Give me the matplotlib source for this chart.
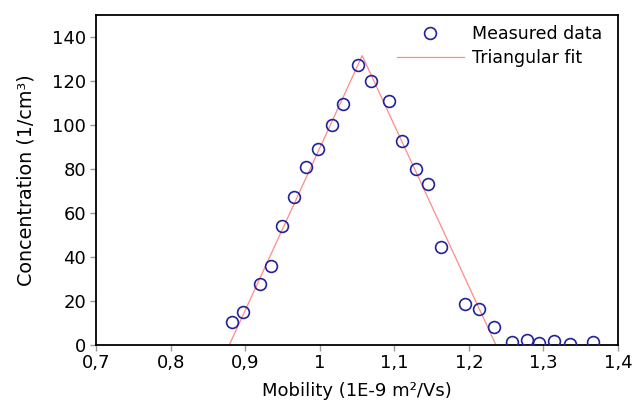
import numpy as np
import matplotlib
matplotlib.use('Agg')
import matplotlib.pyplot as plt
from matplotlib.ticker import FuncFormatter

mobility = [0.882, 0.897, 0.920, 0.935, 0.950, 0.966, 0.982, 0.998, 1.016, 1.031,
            1.052, 1.069, 1.093, 1.111, 1.129, 1.145, 1.163, 1.195, 1.214, 1.234,
            1.258, 1.278, 1.294, 1.314, 1.336, 1.366]
concentration = [10.4, 14.9, 27.5, 35.7, 54.0, 67.2, 81.0, 89.2, 99.7, 109.7,
                 127.1, 119.9, 110.9, 92.8, 79.9, 72.9, 44.5, 18.3, 16.2, 7.8,
                 1.1, 2.0, 0.8, 1.4, 0.2, 1.1]

# Triangular fit corners
fit_x = [0.879, 1.057, 1.236]
fit_y = [0.0, 131.5, 0.0]

xticks = [0.7, 0.8, 0.9, 1.0, 1.1, 1.2, 1.3, 1.4]
yticks = [0, 20, 40, 60, 80, 100, 120, 140]

fig = plt.figure(figsize=(6.34, 4.01), dpi=100)
ax = fig.add_axes([96/634, 1-344.5/401, (618-96)/634, (344.5-15)/401])

ax.plot(mobility, concentration, 'o', markersize=8.5, markerfacecolor='none',
        markeredgecolor='#22229a', markeredgewidth=1.2, label='Measured data', zorder=3)
ax.plot(fit_x, fit_y, '-', color='#ff8a8a', linewidth=0.9, label='Triangular fit', zorder=2)

ax.set_xlim(0.7, 1.4)
ax.set_ylim(0, 150)
ax.set_xticks(xticks)
ax.set_yticks(yticks)

def comma_fmt(v, pos):
    s = ('%.1f' % v).rstrip('0').rstrip('.')
    return s.replace('.', ',')

ax.xaxis.set_major_formatter(FuncFormatter(comma_fmt))
ax.tick_params(direction='out', length=4, width=1, color='#999999', labelsize=13, pad=3)

for sp in ax.spines.values():
    sp.set_linewidth(1.3)

ax.set_xlabel('Mobility (1E-9 m²/Vs)', fontsize=13, labelpad=7)
ax.set_ylabel('Concentration (1/cm³)', fontsize=13.8, labelpad=12)

ax.legend(loc='upper right', bbox_to_anchor=(0.99, 1.0), frameon=False, fontsize=12.5,
          handlelength=3.9, borderaxespad=0.2, labelspacing=0.3, handletextpad=0.45)

fig.savefig('out.png', dpi=100)
